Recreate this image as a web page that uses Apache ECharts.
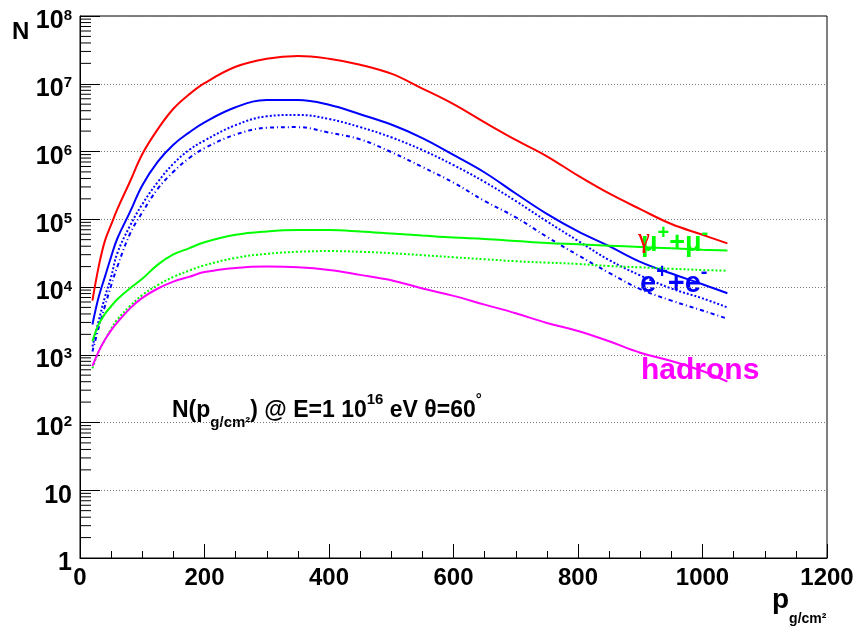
<!DOCTYPE html>
<html>
<head>
<meta charset="utf-8">
<script src="https://cdn.jsdelivr.net/npm/echarts@6/dist/echarts.min.js"></script>
<style>html,body{margin:0;padding:0;background:#fff}#c{width:857px;height:628px}</style>
</head>
<body>
<div id="c"></div>
<script>
// depth p (g/cm2)
const depth = [20,30,40,50,60,80,100,125,150,175,200,250,300,350,400,450,500,550,600,650,700,750,800,850,900,950,1000,1040];
// gamma (red)
const gammaN = [6300,20000,48000,83000,141000,355000,912000,2.14e6,4.27e6,6.92e6,1.02e7,1.78e7,2.34e7,2.57e7,2.34e7,1.91e7,1.41e7,8.5e6,5.0e6,2.69e6,1.48e6,8.5e5,4.4e5,2.4e5,1.41e5,8.5e4,5.9e4,4.4e4];
// e+ + e- (blue solid)
const electronN = [2800,7100,14100,28000,52000,126000,316000,708000,1.26e6,1.9e6,2.7e6,4.5e6,5.75e6,5.75e6,4.9e6,3.55e6,2.5e6,1.58e6,8.9e5,4.9e5,2.4e5,1.2e5,6.6e4,4.0e4,2.35e4,1.58e4,1.1e4,8100];
// blue dotted
const electronDotN = [1320,3160,7100,14100,31600,79000,166000,355000,661000,1.05e6,1.45e6,2.45e6,3.31e6,3.47e6,3.02e6,2.29e6,1.62e6,1.05e6,6.3e5,3.55e5,1.86e5,9.3e4,4.8e4,2.5e4,1.48e4,9500,6800,5000];
// blue dash-dot
const electronDashN = [1120,2500,5200,10500,20000,60000,126000,282000,501000,794000,1.12e6,1.78e6,2.24e6,2.29e6,1.9e6,1.51e6,9.8e5,5.9e5,3.47e5,1.86e5,1.07e5,5.5e4,2.95e4,1.62e4,9300,6300,4500,3400];
// mu+ + mu- (green solid)
const muonN = [1580,2800,4000,5200,6600,9500,13200,21400,30200,37200,45700,58900,66100,69200,69200,66100,61700,57500,53700,51300,47900,44700,42700,40700,38900,37200,35500,34700];
// green dotted
const muonDotN = [630,1120,1660,2400,3300,5200,7600,10700,14100,17400,20900,26900,30900,33100,33900,33100,31600,29500,27500,25700,24000,22900,21900,20400,19500,18600,17800,17400];
// hadrons (magenta)
const hadronN = [680,1120,1660,2290,3000,4800,6900,9500,12000,14100,16600,19100,20000,19500,17800,15100,12600,9500,7400,5500,4100,2950,2240,1580,1070,810,575,400];
// minor tick positions on the log axis (2..9 x 10^k)
const yMinorTicks = [];
for (let k = 0; k < 8; k++) for (let m = 2; m <= 9; m++) yMinorTicks.push(m * Math.pow(10, k));

const FONT = '"Liberation Sans", Arial, sans-serif';

function pair(arr) { return depth.map((d, i) => [d, arr[i]]); }
function line(name, data, color, type) {
  return {
    name, type: 'line', data: pair(data), smooth: 0.4, showSymbol: false, symbol: 'none',
    lineStyle: { color, width: 2, type: type || 'solid' }, z: 3, animation: false
  };
}
function rs(size, color, lh, va, serif) {
  const o = { fontSize: size, fontWeight: serif ? 'normal' : 'bold', fontFamily: serif ? '"Liberation Serif", serif' : FONT, fill: color, color: color, lineHeight: lh };
  if (va) o.verticalAlign = va;
  return o;
}

const chart = echarts.init(document.getElementById('c'), null, { renderer: 'canvas' });
chart.setOption({
  animation: false,
  backgroundColor: '#fff',
  grid: { left: 80, right: 30, top: 16, bottom: 70, show: true, borderColor: '#000', borderWidth: 1, backgroundColor: 'transparent' },
  xAxis: {
    type: 'value', min: 0, max: 1200, interval: 200,
    axisLine: { show: true, onZero: false, lineStyle: { color: '#000', width: 1 } },
    axisTick: { inside: true, length: 14, lineStyle: { color: '#000' } },
    minorTick: { show: true, splitNumber: 4, length: 7, lineStyle: { color: '#000' } },
    splitLine: { show: false },
    axisLabel: { color: '#000', fontSize: 24, fontWeight: 'bold', fontFamily: FONT, margin: 8, formatter: v => String(v) }
  },
  yAxis: {
    type: 'log', logBase: 10, min: 1, max: 1e8, splitNumber: 8,
    axisLine: { show: true, lineStyle: { color: '#000', width: 1 } },
    axisTick: { inside: true, length: 20, lineStyle: { color: '#000' } },
    splitLine: { show: true, lineStyle: { color: '#777', type: [1, 2], width: 1 } },
    axisLabel: {
      margin: 8, color: '#000', padding: [10, 0, 0, 0],
      formatter: function (v) {
        const e = Math.round(Math.log10(v));
        if (e === 0) return '{b|1}';
        if (e === 1) return '{b|10}';
        return '{b|10}{s|' + e + '}';
      },
      rich: {
        b: { fontSize: 25, fontWeight: 'bold', fontFamily: FONT, color: '#000', lineHeight: 26, verticalAlign: 'bottom' },
        s: { fontSize: 15, fontWeight: 'bold', fontFamily: FONT, color: '#000', lineHeight: 14, verticalAlign: 'top' }
      }
    }
  },
  series: [
    {
      type: 'custom', silent: true, z: 5, clip: false,
      data: yMinorTicks.map(v => [0, v]),
      renderItem: function (params, api) {
        const p = api.coord([0, api.value(1)]);
        return { type: 'line', shape: { x1: p[0], y1: p[1], x2: p[0] + 11, y2: p[1] }, style: { stroke: '#000', lineWidth: 1 } };
      }
    },
    line('gamma', gammaN, '#ff0000'),
    line('e+e-', electronN, '#0000ff'),
    line('e dotted', electronDotN, '#0000ff', [2, 2]),
    line('e dashdot', electronDashN, '#0000ff', [4, 3, 1, 3]),
    line('mu', muonN, '#00ff00'),
    line('mu dotted', muonDotN, '#00ff00', [2, 2]),
    line('hadrons', hadronN, '#ff00ff')
  ],
  graphic: [
    { type: 'text', left: 12, top: 20, style: { text: 'N', font: 'bold 24px ' + FONT, fill: '#000' } },
    { type: 'text', x: 772, y: 606, style: {
        text: '{p|p}{s|g/cm²}', verticalAlign: 'middle',
        rich: { p: rs(28, '#000', 40, 'top'), s: rs(14, '#000', 14, 'bottom') } } },
    { type: 'text', x: 172, y: 411, style: {
        text: '{m|N(p}{sub|g/cm²}{m|) @ E=1 10}{sup|16}{m| eV θ=60}{sup|°}', verticalAlign: 'middle',
        rich: { m: rs(23, '#000', 38), sub: rs(15, '#000', 15, 'bottom'), sup: rs(15, '#000', 15, 'top') } } },
    { type: 'text', x: 641, y: 371, style: { text: 'hadrons', font: 'bold 30px ' + FONT, fill: '#ff00ff', verticalAlign: 'middle' } },
    { type: 'text', x: 640, y: 280, style: {
        text: '{e|e}{s|+}{e|+e}{s|-}', verticalAlign: 'middle',
        rich: { e: rs(29, '#0000ff', 36, 'bottom'), s: rs(20, '#0000ff', 20, 'top') } } },
    { type: 'text', x: 641, y: 240, z: 10, style: {
        text: '{e|μ}{s|+}{e|+μ}{s|-}', verticalAlign: 'middle',
        rich: { e: rs(27, '#00ff00', 34, 'bottom'), s: rs(20, '#00ff00', 20, 'top') } } },
    { type: 'text', x: 638, y: 240, z: 11, style: { text: 'γ', font: '27px "Liberation Serif", serif', fill: '#ff0000', verticalAlign: 'middle' } }
  ]
});
</script>
</body>
</html>
